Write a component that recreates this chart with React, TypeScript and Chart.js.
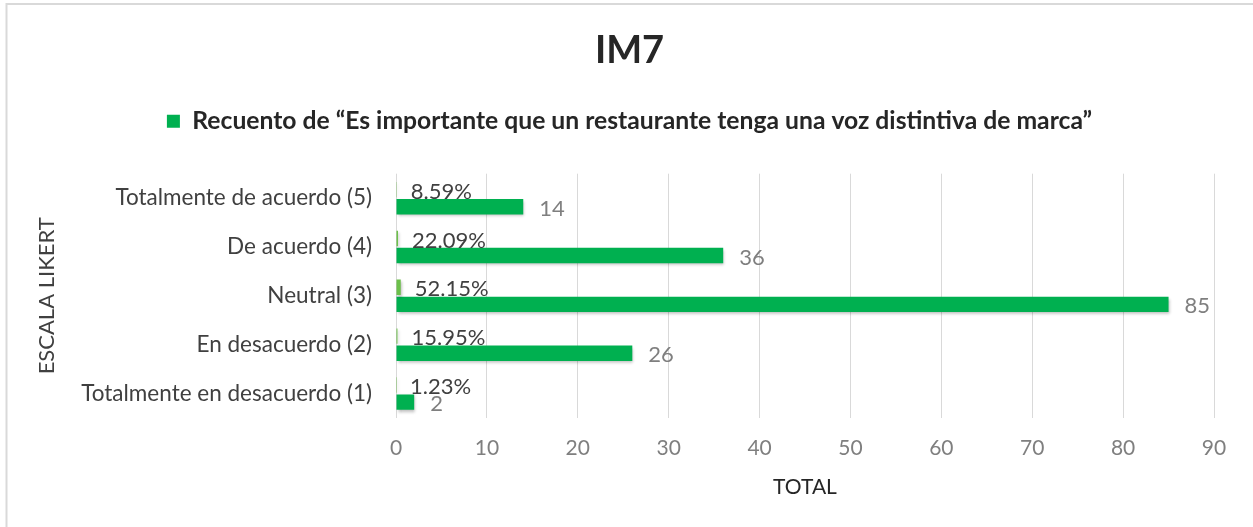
import React, { useEffect, useRef } from "react";
import { Chart, registerables } from "chart.js";

Chart.register(...registerables);

const categories = [
  "Totalmente de acuerdo (5)",
  "De acuerdo (4)",
  "Neutral (3)",
  "En desacuerdo (2)",
  "Totalmente en desacuerdo (1)",
];
const counts = [14, 36, 85, 26, 2];
const shares = [0.0859, 0.2209, 0.5215, 0.1595, 0.0123];
const shareLabels = ["8.59%", "22.09%", "52.15%", "15.95%", "1.23%"];
const xMin = 0;
const xMax = 90;
const xStep = 10;
const titleText = "IM7";
const legendText = "Recuento de “Es importante que un restaurante tenga una voz distintiva de marca”";
const yTitle = "ESCALA LIKERT";
const xTitle = "TOTAL";

const FONT = "Lato";

const framePlugin = {
  id: "frame",
  beforeDraw(chart: any) {
    const ctx = chart.ctx;
    ctx.save();
    ctx.fillStyle = "#ffffff";
    ctx.fillRect(0, 0, chart.width, chart.height);
    ctx.strokeStyle = "#d9d9d9";
    ctx.lineWidth = 2;
    ctx.beginPath();
    ctx.moveTo(6.5, chart.height);
    ctx.lineTo(6.5, 4);
    ctx.lineTo(chart.width, 4);
    ctx.stroke();
    ctx.restore();
  },
  beforeDatasetsDraw(chart: any) {
    const ctx = chart.ctx;
    ctx.save();
    ctx.shadowColor = "rgba(0,0,0,0.28)";
    ctx.shadowBlur = 3;
    ctx.shadowOffsetX = 1;
    ctx.shadowOffsetY = 2;
  },
  afterDatasetsDraw(chart: any) {
    chart.ctx.restore();
  },
};

const labelPlugin = {
  id: "barLabels",
  afterDatasetsDraw(chart: any) {
    const ctx = chart.ctx;
    ctx.save();
    ctx.textBaseline = "middle";
    ctx.textAlign = "left";
    ctx.font = `22px ${FONT}`;
    const m0 = chart.getDatasetMeta(0);
    ctx.fillStyle = "#404040";
    m0.data.forEach((el: any, i: number) => {
      ctx.fillText(shareLabels[i], el.x + 14, el.y + 2);
    });
    const m1 = chart.getDatasetMeta(1);
    ctx.fillStyle = "#7f7f7f";
    m1.data.forEach((el: any, i: number) => {
      ctx.fillText(String(counts[i]), el.x + 16, el.y + 2);
    });
    ctx.restore();
  },
};

export default function App() {
  const ref = useRef<HTMLCanvasElement | null>(null);

  useEffect(() => {
    document.body.style.margin = "0";
    if (!ref.current) return;
    const chart = new Chart(ref.current, {
      type: "bar",
      data: {
        labels: categories,
        datasets: [
          {
            label: "Porcentaje",
            data: shares,
            backgroundColor: "#6CC04A",
            categoryPercentage: 0.7,
            barPercentage: 0.9,
          },
          {
            label: legendText,
            data: counts,
            backgroundColor: "#00B050",
            categoryPercentage: 0.7,
            barPercentage: 0.9,
          },
        ],
      },
      options: {
        indexAxis: "y",
        responsive: false,
        animation: false,
        layout: { padding: { left: 6, right: 0, top: 0, bottom: 12 } },
        plugins: {
          tooltip: { enabled: false },
          title: {
            display: true,
            text: titleText,
            color: "#262626",
            font: { family: FONT, size: 38, weight: "bold", lineHeight: 1 },
            padding: { top: 32, bottom: 1 },
          },
          subtitle: {
            display: true,
            text: " ",
            weight: 500,
            font: { size: 10, lineHeight: 1 },
            padding: { top: 10, bottom: 10 },
          },
          legend: {
            display: true,
            position: "top",
            labels: {
              filter: (item: any) => item.datasetIndex === 1,
              color: "#262626",
              font: { family: FONT, size: 24.7, weight: "bold" },
              boxWidth: 13,
              boxHeight: 13,
              padding: 38,
            },
          },
        },
        scales: {
          x: {
            min: xMin,
            max: xMax,
            ticks: { stepSize: xStep, color: "#7f7f7f", font: { family: FONT, size: 21 }, padding: 18 },
            grid: { color: "#d9d9d9", drawTicks: false, lineWidth: 1 },
            border: { display: false },
            title: {
              display: true,
              text: xTitle,
              color: "#262626",
              font: { family: FONT, size: 21 },
              padding: { top: 13, bottom: 15 },
            },
            afterFit: (s: any) => {
              s.height = 97;
            },
          },
          y: {
            ticks: { color: "#404040", font: { family: FONT, size: 22.5 }, padding: 24 },
            grid: { display: false, drawTicks: false },
            border: { display: false },
            title: {
              display: true,
              text: yTitle,
              color: "#404040",
              font: { family: FONT, size: 22 },
              padding: 28,
            },
            afterFit: (s: any) => {
              s.width = 390;
            },
          },
          y2: {
            type: "category",
            labels: categories,
            position: "right",
            grid: { display: false, drawTicks: false },
            border: { display: false },
            ticks: { display: false },
            afterFit: (s: any) => {
              s.width = 39;
            },
          },
        },
      },
      plugins: [framePlugin, labelPlugin],
    });
    return () => chart.destroy();
  }, []);

  return (
    <div style={{ width: 1253, height: 527 }}>
      <canvas ref={ref} width={1253} height={527} style={{ display: "block" }} />
    </div>
  );
}
